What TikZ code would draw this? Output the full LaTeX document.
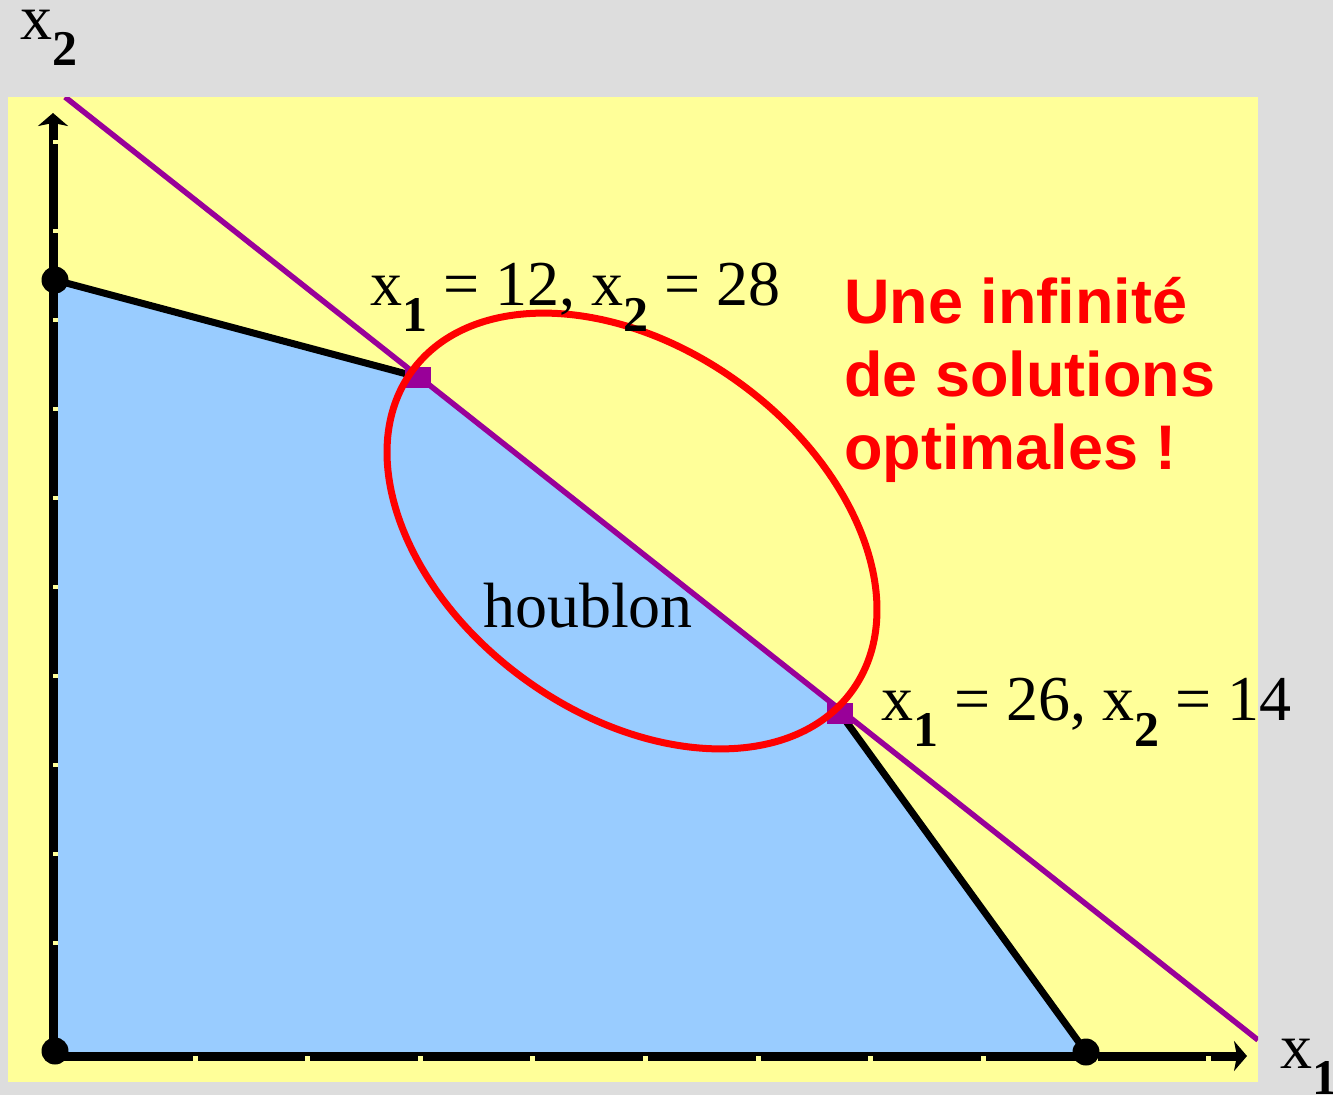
\documentclass[tikz,border=0pt]{standalone}
\usepackage{fontspec}
\setmainfont{Liberation Serif}
\newfontfamily\notefont{Liberation Sans}
\usetikzlibrary{shapes.geometric, arrows.meta, positioning}

\definecolor{bggray}{HTML}{DDDDDD}
\definecolor{plotyellow}{HTML}{FFFF99}
\definecolor{regionblue}{HTML}{99CCFF}
\definecolor{optpurple}{HTML}{990099}

\newcommand{\xsub}[1]{x\raisebox{-0.42em}{\fontsize{50}{50}\selectfont\bfseries #1}}

\begin{document}
\begin{tikzpicture}[x=1pt, y=-1pt,
    axisline/.style={line width=9pt, -{Stealth[width=30pt, length=13pt, inset=3pt]}},
    edgeline/.style={line width=7pt, line join=round},
    vertexdot/.style={circle, fill=black, inner sep=0pt, minimum size=27pt},
    optmark/.style={rectangle, fill=optpurple, inner sep=0pt, minimum width=26pt, minimum height=21pt},
    solnote/.style={anchor=base west, inner sep=0pt, font=\fontsize{64}{73}\selectfont},
    rednote/.style={anchor=base west, inner sep=0pt, align=left, text=red, font=\notefont\bfseries\fontsize{63}{73}\selectfont}
]
    % Frame
    \fill[bggray] (0,0) rectangle (1333,1095);
    \useasboundingbox (0,0) rectangle (1333,1095);
    \fill[plotyellow] (8,97) rectangle (1258,1082);

    % Corner points of the region
    \coordinate (o) at (53,1056);
    \coordinate (ytop) at (53,113);
    \coordinate (xend) at (1247,1056);
    \coordinate (c1) at (55,280);
    \coordinate (c2) at (418,377);
    \coordinate (c3) at (840,713);
    \coordinate (c4) at (1086,1052);
    \coordinate (la) at (65,97);
    \coordinate (lb) at (1258,1040);

    % Feasible region
    \fill[regionblue] (o) -- (c1) -- (c2) -- (c3) -- (c4) -- cycle;
    \begin{scope}
        \clip (8,97) rectangle (1258,1082);
        \draw[optpurple, line width=5.5pt] (la) -- (lb);
    \end{scope}
    \draw[edgeline] (c1) -- (c2);
    \draw[edgeline] (c3) -- (c4);

    % Axes
    \draw[axisline] (o) -- (ytop);
    \draw[axisline] (o) -- (xend);
    \foreach \k in {0,...,9} {
        \fill[plotyellow] ({195+112.6*\k-2.5},1056) rectangle ++(5,4.5);
        \fill[plotyellow] (53,{142+89*\k-2}) rectangle ++(4.5,4);
    }

    % Vertices
    \node[vertexdot] (p0) at (55,1051) {};
    \node[vertexdot] (p1) at (c1) {};
    \node[vertexdot] (p4) at (c4) {};
    \node[optmark] (s1) at (c2) {};
    \node[optmark] (s2) at (c3) {};

    % Highlight
    \node[ellipse, draw=red, line width=7pt, inner sep=0pt, minimum width=544pt, minimum height=366pt, rotate=-36] (ring) at (632,531) {};

    % Labels
    \node[solnote] (xtwo) at (20,39) {\xsub{2}};
    \node[solnote] (xone) at (1280,1068) {\xsub{1}};
    \node[solnote] (sola) at (370,305) {\xsub{1} = 12, \xsub{2} = 28};
    \node[solnote] (solb) at (881,720) {\xsub{1} = 26, \xsub{2} = 14};
    \node[solnote] (hop) at (483,627) {houblon};
    \node[rednote] (msg) at (844,469) {Une infinité\\de solutions\\optimales !};
\end{tikzpicture}
\end{document}
